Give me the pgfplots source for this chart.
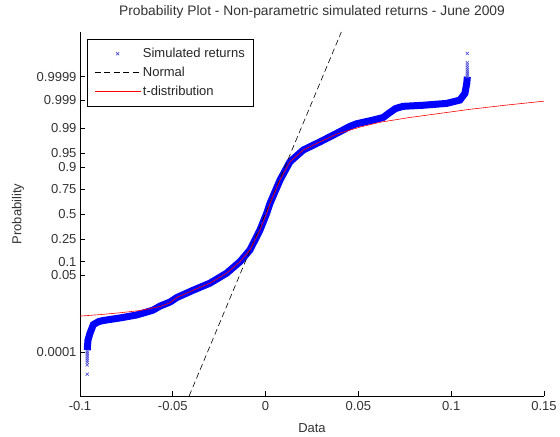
\documentclass[border=0pt]{standalone}
\usepackage{pgfplots}
\pgfplotsset{compat=1.18}
\usepackage{fontspec}
\setmainfont{Liberation Sans}
\newcommand\mf{\fontsize{13bp}{15bp}\selectfont}
\newcommand\tf{\fontsize{13.8bp}{16bp}\selectfont}
\definecolor{mkblue}{RGB}{80,80,215}
\pgfplotsset{
  lineleg/.style={legend image code/.code={\draw[##1] (0bp,0bp) -- (46bp,0bp);}},
  markleg/.style={legend image code/.code={\draw[mark repeat=2,mark phase=2,##1] plot coordinates {(0bp,0bp) (23bp,0bp) (46bp,0bp)};}},
}

\pgfplotstableread{
x z
-0.0961 -3.67
-0.0957 -3.40
-0.0946 -3.21
-0.0928 -2.98
-0.0900 -2.90
-0.0876 -2.87
-0.0784 -2.80
-0.0695 -2.72
-0.0607 -2.59
-0.0569 -2.48
-0.0515 -2.37
-0.0479 -2.25
-0.0390 -2.05
-0.0300 -1.86
-0.0210 -1.59
-0.0138 -1.28
-0.0084 -0.96
-0.0030 -0.42
0.0006 0.03
0.0024 0.30
0.0078 0.93
0.0131 1.42
0.0203 1.74
0.0293 1.96
0.0383 2.19
0.0455 2.38
0.0491 2.45
0.0580 2.55
0.0634 2.62
0.0660 2.72
0.0700 2.86
0.0740 2.92
0.0850 2.95
0.0976 3.00
0.1047 3.09
0.1074 3.27
0.1084 3.55
0.1087 3.72
}\simband

\pgfplotstableread{
x z
-0.0961 -3.70
-0.0961 -3.75
-0.0961 -3.80
-0.0961 -3.85
-0.0961 -3.90
-0.0961 -3.95
-0.0961 -4.00
-0.0961 -4.07
-0.0961 -4.32
0.1087 3.72
0.1087 3.77
0.1087 3.82
0.1087 3.87
0.1087 3.92
0.1087 3.97
0.1087 4.03
0.1087 4.10
0.1087 4.35
}\simmarks

\pgfplotstableread{
x z
-0.1000 -2.75
-0.0892 -2.71
-0.0784 -2.66
-0.0677 -2.60
-0.0569 -2.49
-0.0515 -2.39
-0.0479 -2.25
-0.0390 -2.05
-0.0300 -1.86
-0.0210 -1.59
-0.0138 -1.28
-0.0084 -0.96
-0.0030 -0.42
0.0006 0.03
0.0024 0.30
0.0078 0.93
0.0131 1.42
0.0203 1.74
0.0293 1.96
0.0383 2.17
0.0509 2.36
0.0616 2.49
0.0778 2.62
0.0940 2.73
0.1101 2.84
0.1290 2.95
0.1500 3.06
}\tdist

\pgfplotstableread{
x z
-0.0412 -4.91
0.0408 4.93
}\normline

\begin{document}
\begin{tikzpicture}[font=\mf]
\path[use as bounding box] (-80bp,-41bp) rectangle (480bp,396bp);
\begin{axis}[
  at={(0,0)}, anchor=south west,
  scale only axis, width=464bp, height=364bp,
  xmin=-0.1, xmax=0.15, ymin=-4.91, ymax=4.93,
  axis x line*=bottom, axis y line*=left,
  axis line style={black, line width=0.6bp},
  tick align=inside, major tick length=5bp,
  tick style={black, line width=0.6bp},
  xtick={-0.1,-0.05,0,0.05,0.1,0.15},
  xticklabels={-0.1,-0.05,0,0.05,0.1,0.15},
  ytick={-3.719,-1.645,-1.2816,-0.6745,0,0.6745,1.2816,1.645,2.326,3.090,3.719},
  yticklabels={0.0001,0.05,0.1,0.25,0.5,0.75,0.9,0.95,0.99,0.999,0.9999},
  tick label style={font=\mf, text=black!80},
  xticklabel style={yshift=-1.5bp},
  title={Probability Plot - Non-parametric simulated returns - June 2009},
  title style={at={(axis description cs:0.5,1.0385)}, anchor=center, font=\tf, text=black!80},
  xlabel={Data},
  every axis x label/.style={at={(axis description cs:0.5,-0.0879)}, anchor=center, font=\mf, text=black!80},
  ylabel={Probability},
  every axis y label/.style={at={(axis description cs:-0.1336,0.5)}, anchor=center, rotate=90, font=\mf, text=black!80},
  legend style={at={(axis description cs:0.0151,0.9808)}, anchor=north west,
    draw=black, line width=0.6bp, fill=white, font=\mf, text=black!85,
    row sep=4bp, inner xsep=7bp, inner ysep=7bp},
  legend cell align=left,
]
\addplot[blue, line width=7bp, forget plot] table[x=x,y=z] {\simband};
\addplot[only marks, mark=x, mark size=2.2bp, mkblue, mark options={line width=0.6bp}, markleg]
  table[x=x,y=z] {\simmarks};
\addlegendentry{Simulated returns}
\addplot[black, line width=0.6bp, dash pattern=on 6bp off 3.5bp, lineleg]
  table[x=x,y=z] {\normline};
\addlegendentry{Normal}
\addplot[red, line width=0.6bp, lineleg]
  table[x=x,y=z] {\tdist};
\addlegendentry{t-distribution}
\end{axis}
\end{tikzpicture}
\end{document}
